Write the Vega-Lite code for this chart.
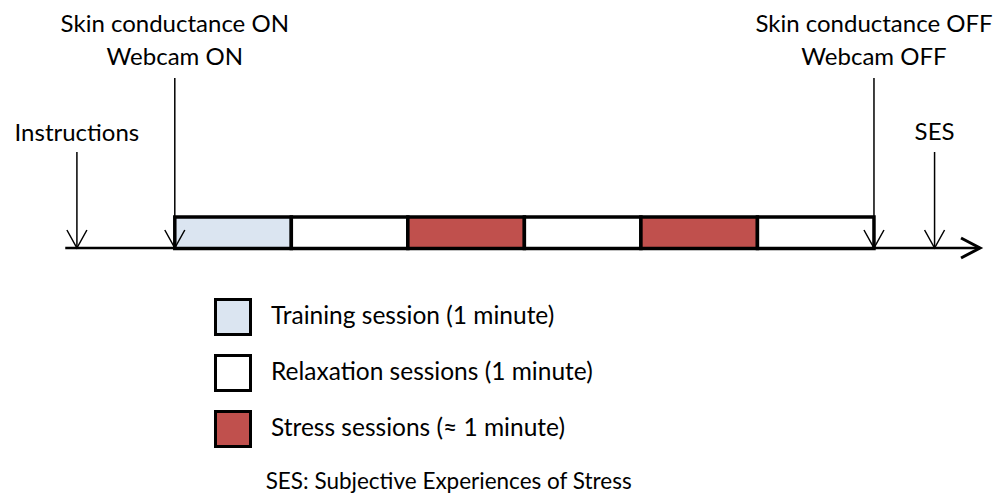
{
  "$schema": "https://vega.github.io/schema/vega-lite/v6.json",
  "width": 994,
  "height": 493,
  "autosize": "none",
  "padding": 0,
  "config": {"view": {"stroke": null}, "font": "Lato"},
  "datasets": {
    "axisline": [{"from": -0.94, "to": 6.91, "level": 248}],
    "sessions": [
      {"start": 0, "end": 1, "type": "Training session (1 minute)"},
      {"start": 1, "end": 2, "type": "Relaxation sessions (1 minute)"},
      {"start": 2, "end": 3, "type": "Stress sessions (≈ 1 minute)"},
      {"start": 3, "end": 4, "type": "Relaxation sessions (1 minute)"},
      {"start": 4, "end": 5, "type": "Stress sessions (≈ 1 minute)"},
      {"start": 5, "end": 6, "type": "Relaxation sessions (1 minute)"}
    ],
    "events": [
      {"event": "Instructions", "t": -0.84, "top": 152},
      {"event": "Recording ON", "t": 0, "top": 78},
      {"event": "Recording OFF", "t": 6, "top": 78},
      {"event": "SES", "t": 6.52, "top": 152}
    ],
    "labels": [
      {"text": "Skin conductance ON", "t": 0, "level": 32},
      {"text": "Webcam ON", "t": 0, "level": 65},
      {"text": "Instructions", "t": -0.84, "level": 141},
      {"text": "Skin conductance OFF", "t": 6, "level": 32},
      {"text": "Webcam OFF", "t": 6, "level": 65},
      {"text": "SES", "t": 6.52, "level": 140}
    ],
    "note": [
      {"text": "SES: Subjective Experiences of Stress", "t": 2.35, "level": 489}
    ]
  },
  "layer": [
    {
      "data": {"name": "axisline"},
      "mark": {"type": "rule", "stroke": "black", "strokeWidth": 2.5},
      "encoding": {
        "x": {"field": "from", "type": "quantitative", "scale": {"domain": [-1.5, 7.03]}, "axis": null},
        "x2": {"field": "to"},
        "y": {"field": "level", "type": "quantitative", "scale": {"domain": [493, 0]}, "axis": null}
      }
    },
    {
      "data": {"name": "axisline"},
      "mark": {"type": "point", "shape": "M-3.8,-2L0,0L-3.8,2", "size": 100, "filled": false, "stroke": "black", "strokeWidth": 3, "opacity": 1},
      "encoding": {
        "x": {"field": "to", "type": "quantitative", "scale": {"domain": [-1.5, 7.03]}, "axis": null},
        "y": {"field": "level", "type": "quantitative", "scale": {"domain": [493, 0]}, "axis": null}
      }
    },
    {
      "data": {"name": "sessions"},
      "mark": {"type": "rect", "stroke": "black", "strokeWidth": 3.5, "opacity": 1},
      "encoding": {
        "x": {"field": "start", "type": "quantitative", "scale": {"domain": [-1.5, 7.03]}, "axis": null},
        "x2": {"field": "end"},
        "y": {"datum": 217, "type": "quantitative", "scale": {"domain": [493, 0]}, "axis": null},
        "y2": {"datum": 248.5},
        "color": {
          "field": "type",
          "type": "nominal",
          "scale": {
            "domain": ["Training session (1 minute)", "Relaxation sessions (1 minute)", "Stress sessions (≈ 1 minute)"],
            "range": ["#dbe5f1", "#ffffff", "#c0504d"]
          },
          "legend": {
            "orient": "none",
            "legendX": 214,
            "legendY": 298,
            "title": null,
            "padding": 0,
            "symbolType": "square",
            "symbolSize": 1225,
            "symbolStrokeColor": "black",
            "symbolStrokeWidth": 3,
            "symbolOpacity": 1,
            "labelFont": "Lato",
            "labelFontSize": 24.5,
            "labelColor": "black",
            "labelOffset": 19,
            "labelLimit": 500,
            "rowPadding": 8
          }
        }
      }
    },
    {
      "data": {"name": "events"},
      "mark": {"type": "rule", "stroke": "black", "strokeWidth": 1.5},
      "encoding": {
        "x": {"field": "t", "type": "quantitative", "scale": {"domain": [-1.5, 7.03]}, "axis": null},
        "y": {"field": "top", "type": "quantitative", "scale": {"domain": [493, 0]}, "axis": null},
        "y2": {"datum": 248}
      }
    },
    {
      "data": {"name": "events"},
      "mark": {"type": "point", "shape": "M-1,-1.8L0,0L1,-1.8", "size": 400, "filled": false, "stroke": "black", "strokeWidth": 1.5, "opacity": 1},
      "encoding": {
        "x": {"field": "t", "type": "quantitative", "scale": {"domain": [-1.5, 7.03]}, "axis": null},
        "y": {"datum": 248, "type": "quantitative", "scale": {"domain": [493, 0]}, "axis": null}
      }
    },
    {
      "data": {"name": "labels"},
      "mark": {"type": "text", "align": "center", "baseline": "alphabetic", "fontSize": 24, "font": "Lato", "color": "black"},
      "encoding": {
        "x": {"field": "t", "type": "quantitative", "scale": {"domain": [-1.5, 7.03]}, "axis": null},
        "y": {"field": "level", "type": "quantitative", "scale": {"domain": [493, 0]}, "axis": null},
        "text": {"field": "text"}
      }
    },
    {
      "data": {"name": "note"},
      "mark": {"type": "text", "align": "center", "baseline": "alphabetic", "fontSize": 22.5, "font": "Lato", "color": "black"},
      "encoding": {
        "x": {"field": "t", "type": "quantitative", "scale": {"domain": [-1.5, 7.03]}, "axis": null},
        "y": {"field": "level", "type": "quantitative", "scale": {"domain": [493, 0]}, "axis": null},
        "text": {"field": "text"}
      }
    }
  ]
}
